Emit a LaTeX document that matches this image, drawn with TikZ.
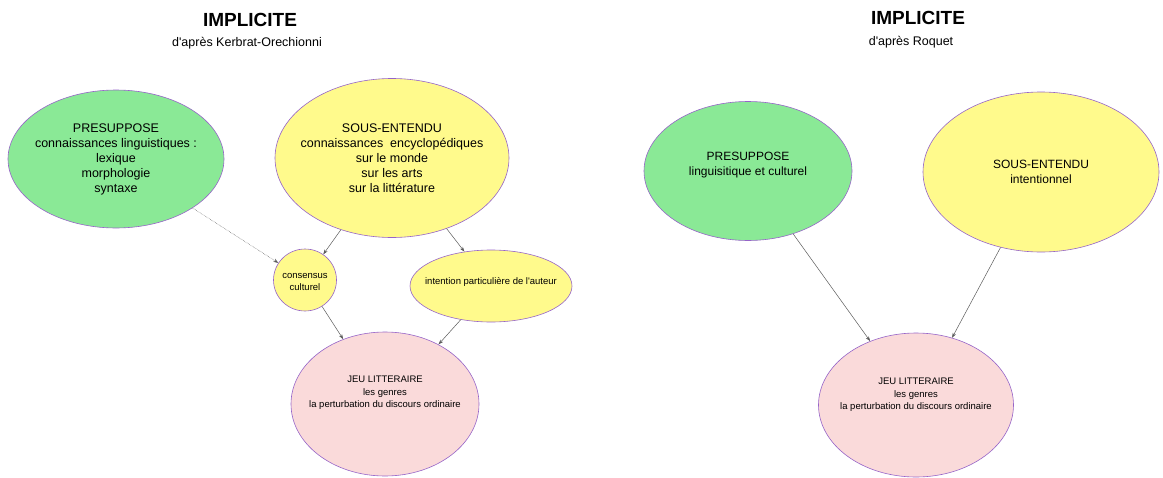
\documentclass[tikz,border=0pt]{standalone}
\usepackage{fontspec}
\setmainfont{Liberation Sans}
\usetikzlibrary{shapes.geometric,arrows.meta}
\definecolor{bgreen}{RGB}{138,233,150}
\definecolor{byellow}{RGB}{255,250,140}
\definecolor{bpink}{RGB}{250,218,218}
\definecolor{edgecol}{RGB}{150,100,200}
\definecolor{linecol}{RGB}{90,90,90}
\tikzset{
  bub/.style={ellipse, draw=edgecol, line width=0.6pt, inner sep=0pt},
  lab/.style={align=center, text=black, inner sep=0pt},
  bigtext/.style={font=\fontsize{12.5}{15}\selectfont},
  smalltext/.style={font=\fontsize{9.5}{12.5}\selectfont},
  conn/.style={draw=linecol, line width=0.5pt, -{Stealth[length=5pt,width=3.5pt]}},
  ttl/.style={font=\bfseries\fontsize{19}{22}\selectfont},
  subttl/.style={font=\fontsize{12.5}{14}\selectfont},
}
\begin{document}
\begin{tikzpicture}[x=1pt,y=-1pt]
\useasboundingbox (0,0) rectangle (1163,477);

% titles
\node[ttl] (t1) at (250,20) {IMPLICITE};
\node[subttl] (s1) at (247,43) {d\textquotesingle après Kerbrat-Orechionni};
\node[ttl] (t2) at (918,18) {IMPLICITE};
\node[subttl] (s2) at (911,42) {d\textquotesingle après Roquet};

% left diagram
\node[bub, fill=bgreen, minimum width=216pt, minimum height=138pt,
  label={[lab,bigtext]center:{PRESUPPOSE\\connaissances linguistiques :\\lexique\\morphologie\\syntaxe}}] (lp) at (116,159) {};
\node[bub, fill=byellow, minimum width=234pt, minimum height=159pt,
  label={[lab,bigtext]center:{SOUS-ENTENDU\\connaissances\ \ encyclopédiques\\sur le monde\\sur les arts\\sur la littérature}}] (ls) at (392,158) {};
\node[bub, fill=byellow, minimum width=63pt, minimum height=62pt,
  label={[lab,smalltext,yshift=-2pt]center:{consensus\\culturel}}] (lc) at (305,280) {};
\node[bub, fill=byellow, minimum width=162pt, minimum height=72pt,
  label={[lab,smalltext,yshift=4pt]center:{intention particulière de l\textquotesingle auteur}}] (li) at (491,286) {};
\node[bub, fill=bpink, minimum width=188pt, minimum height=144pt,
  label={[lab,smalltext,yshift=11pt]center:{JEU LITTERAIRE\\les genres\\la perturbation du discours ordinaire}}] (lj) at (385,404) {};

\draw[conn, densely dotted] (lp) -- (lc);
\draw[conn] (ls) -- (lc);
\draw[conn] (ls) -- (li);
\draw[conn] (lc) -- (lj);
\draw[conn] (li) -- (lj);

% right diagram
\node[bub, fill=bgreen, minimum width=208pt, minimum height=139pt,
  label={[lab,font=\fontsize{12}{15}\selectfont,yshift=6pt]center:{PRESUPPOSE\\linguisitique et culturel}}] (rp) at (748,171) {};
\node[bub, fill=byellow, minimum width=236pt, minimum height=160pt,
  label={[lab,font=\fontsize{12}{15}\selectfont]center:{SOUS-ENTENDU\\intentionnel}}] (rs) at (1041,172) {};
\node[bub, fill=bpink, minimum width=195pt, minimum height=144pt,
  label={[lab,smalltext,yshift=10pt]center:{JEU LITTERAIRE\\les genres\\la perturbation du discours ordinaire}}] (rj) at (916,405) {};

\draw[conn] (rp) -- (rj);
\draw[conn] (rs) -- (rj);
\end{tikzpicture}
\end{document}
